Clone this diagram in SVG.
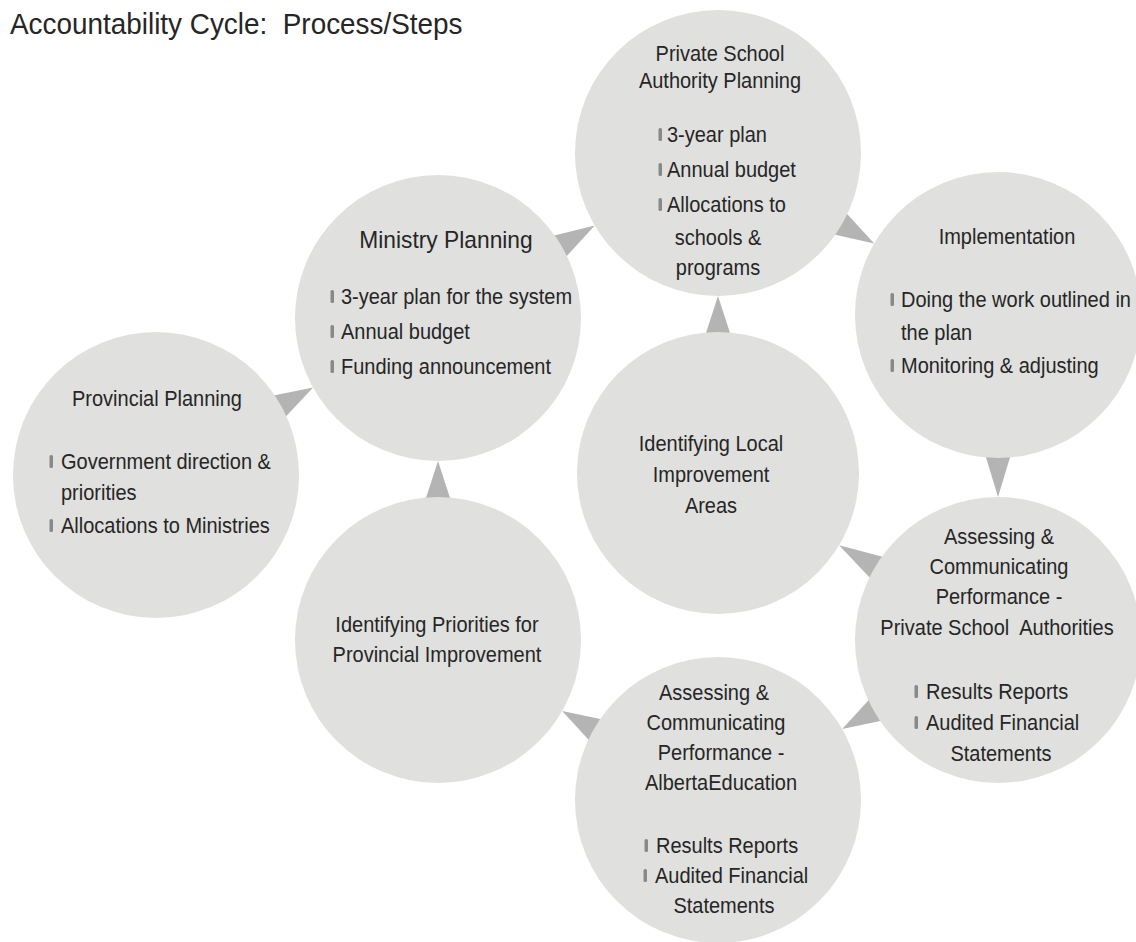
<svg xmlns="http://www.w3.org/2000/svg" width="1136" height="942" viewBox="0 0 1136 942">
  <style>
    .bg { fill: #ffffff; }
    .node { fill: #e0e0de; }
    .arrow { fill: #b4b4b4; }
    .bar { fill: #888888; }
    text { font-family: "Liberation Sans", Arial, sans-serif; fill: #262626; }
    .title { font-size: 30px; }
    .head { font-size: 21.5px; text-anchor: middle; }
    .head-lg { font-size: 24.5px; text-anchor: middle; }
    .body { font-size: 21.5px; }
    .mid { font-size: 21.5px; text-anchor: middle; }
  </style>

  <rect class="bg" x="0" y="0" width="1136" height="942"/>

  <!-- all lettering is set slightly condensed: x values below are in the scaled (÷0.93) space -->
  <g transform="scale(0.93 1)">
    <text class="title" x="10.75" y="34" style="white-space:pre" xml:space="preserve">Accountability Cycle:  Process/Steps</text>
  </g>

  <!-- connectors: wedge-shaped arrows drawn under the circles -->
  <g id="connectors">
    <polygon class="arrow" points="283.8,418.8 271.1,396.0 313.1,387.6"/>
    <polygon class="arrow" points="451,501 425,501 438,461"/>
    <polygon class="arrow" points="564.4,258.6 551.2,236.2 594.8,225.6"/>
    <polygon class="arrow" points="731,336 705,336 718,296"/>
    <polygon class="arrow" points="831.8,233.9 844.8,211.4 874.2,243.4"/>
    <polygon class="arrow" points="985,454 1011,454 998,497"/>
    <polygon class="arrow" points="885.3,557.6 872.0,580.0 839.1,545.2"/>
    <polygon class="arrow" points="870.9,697.7 883.8,720.3 842.2,729.1"/>
    <polygon class="arrow" points="603.8,719.8 590.9,742.3 562.2,711.0"/>
  </g>

  <g id="psa-planning">
    <circle class="node" cx="718" cy="153" r="143"/>
    <rect class="bar" x="658.5" y="128" width="3.5" height="13" rx="1.5"/>
    <rect class="bar" x="658.5" y="163" width="3.5" height="13" rx="1.5"/>
    <rect class="bar" x="658.5" y="198" width="3.5" height="13" rx="1.5"/>
    <g transform="scale(0.93 1)">
      <text class="head" x="774.19" y="61">Private School</text>
      <text class="head" x="774.19" y="88">Authority Planning</text>
      <text class="body" x="717.20" y="142">3-year plan</text>
      <text class="body" x="717.20" y="177">Annual budget</text>
      <text class="body" x="717.20" y="212">Allocations to</text>
      <text class="mid" x="772.04" y="245">schools &amp;</text>
      <text class="mid" x="772.04" y="275">programs</text>
    </g>
  </g>

  <g id="ministry-planning">
    <circle class="node" cx="438" cy="318" r="143"/>
    <rect class="bar" x="330.5" y="290" width="3.5" height="13" rx="1.5"/>
    <rect class="bar" x="330.5" y="325" width="3.5" height="13" rx="1.5"/>
    <rect class="bar" x="330.5" y="360" width="3.5" height="13" rx="1.5"/>
    <g transform="scale(0.93 1)">
      <text class="head-lg" x="479.57" y="248">Ministry Planning</text>
      <text class="body" x="366.67" y="304">3-year plan for the system</text>
      <text class="body" x="366.67" y="339">Annual budget</text>
      <text class="body" x="366.67" y="374">Funding announcement</text>
    </g>
  </g>

  <g id="provincial-planning">
    <circle class="node" cx="156" cy="475" r="143"/>
    <rect class="bar" x="49.5" y="455" width="3.5" height="13" rx="1.5"/>
    <rect class="bar" x="49.5" y="519" width="3.5" height="13" rx="1.5"/>
    <g transform="scale(0.93 1)">
      <text class="head" x="168.82" y="406">Provincial Planning</text>
      <text class="body" x="65.59" y="469">Government direction &amp;</text>
      <text class="body" x="65.59" y="500">priorities</text>
      <text class="body" x="65.59" y="533">Allocations to Ministries</text>
    </g>
  </g>

  <g id="implementation">
    <circle class="node" cx="998" cy="315" r="143"/>
    <rect class="bar" x="890.5" y="293" width="3.5" height="13" rx="1.5"/>
    <rect class="bar" x="890.5" y="359" width="3.5" height="13" rx="1.5"/>
    <g transform="scale(0.93 1)">
      <text class="head" x="1082.80" y="244">Implementation</text>
      <text class="body" x="968.82" y="307">Doing the work outlined in</text>
      <text class="body" x="968.82" y="340">the plan</text>
      <text class="body" x="968.82" y="373">Monitoring &amp; adjusting</text>
    </g>
  </g>

  <g id="local-improvement">
    <circle class="node" cx="718" cy="473" r="141"/>
    <g transform="scale(0.93 1)">
      <text class="mid" x="764.52" y="451">Identifying Local</text>
      <text class="mid" x="764.52" y="482">Improvement</text>
      <text class="mid" x="764.52" y="513">Areas</text>
    </g>
  </g>

  <g id="provincial-priorities">
    <circle class="node" cx="438" cy="640" r="143"/>
    <g transform="scale(0.93 1)">
      <text class="mid" x="469.89" y="632">Identifying Priorities for</text>
      <text class="mid" x="469.89" y="662">Provincial Improvement</text>
    </g>
  </g>

  <g id="assess-private">
    <circle class="node" cx="998" cy="640" r="143"/>
    <rect class="bar" x="914.5" y="685" width="3.5" height="13" rx="1.5"/>
    <rect class="bar" x="914.5" y="716" width="3.5" height="13" rx="1.5"/>
    <g transform="scale(0.93 1)">
      <text class="mid" x="1074.19" y="544">Assessing &amp;</text>
      <text class="mid" x="1074.19" y="574">Communicating</text>
      <text class="mid" x="1074.19" y="604">Performance -</text>
      <text class="mid" x="1072.04" y="635" style="white-space:pre" xml:space="preserve">Private School  Authorities</text>
      <text class="body" x="995.70" y="699">Results Reports</text>
      <text class="body" x="995.70" y="730">Audited Financial</text>
      <text class="mid" x="1076.34" y="761">Statements</text>
    </g>
  </g>

  <g id="assess-alberta">
    <circle class="node" cx="718" cy="800" r="143"/>
    <rect class="bar" x="644.5" y="839" width="3.5" height="13" rx="1.5"/>
    <rect class="bar" x="643.5" y="869" width="3.5" height="13" rx="1.5"/>
    <g transform="scale(0.93 1)">
      <text class="mid" x="767.74" y="700">Assessing &amp;</text>
      <text class="mid" x="769.89" y="730">Communicating</text>
      <text class="mid" x="775.27" y="760">Performance -</text>
      <text class="mid" x="775.27" y="790">AlbertaEducation</text>
      <text class="body" x="705.38" y="853">Results Reports</text>
      <text class="body" x="704.30" y="883">Audited Financial</text>
      <text class="mid" x="778.49" y="913">Statements</text>
    </g>
  </g>
</svg>
